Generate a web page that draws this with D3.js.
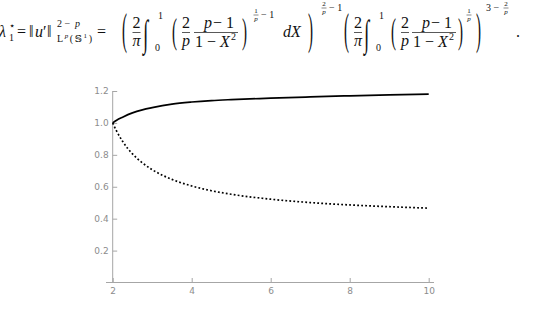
<!DOCTYPE html>
<html>
  <head>
    <script src="https://d3js.org/d3.v7.min.js"></script>
    <style>
      body { margin: 0; background: #fff; }
      .fm text { font-family: 'Liberation Serif', 'DejaVu Serif', serif; }
      .tick text { font-family: 'DejaVu Sans', sans-serif; }
    </style>
  </head>
  <body>
<script type="text/javascript">
// values
var pValues   = [2, 2.1, 2.25, 2.5, 2.75, 3, 3.5, 4, 4.5, 5, 6, 7, 8, 9, 10];
var upperCurve = [1.0, 1.017, 1.036, 1.063, 1.082, 1.096, 1.118, 1.131, 1.140, 1.146, 1.155, 1.163, 1.170, 1.176, 1.180];
var lowerCurve = [1.0, 0.948, 0.885, 0.806, 0.750, 0.707, 0.646, 0.605, 0.575, 0.553, 0.522, 0.501, 0.486, 0.475, 0.466];
var xTicks = [2, 4, 6, 8, 10];
var xMinor = [2.5, 3, 3.5, 4.5, 5, 5.5, 6.5, 7, 7.5, 8.5, 9, 9.5];
var yTicks = [0.2, 0.4, 0.6, 0.8, 1.0, 1.2];
var yMinor = [0.05, 0.1, 0.15, 0.25, 0.3, 0.35, 0.45, 0.5, 0.55, 0.65, 0.7, 0.75, 0.85, 0.9, 0.95, 1.05, 1.1, 1.15];

var width = 539, height = 309;
var svg = d3.select('body').append('svg')
      .attr('width', width)
      .attr('height', height);

var x = d3.scaleLinear().domain([2, 10]).range([112.7, 428.7]);
var y = d3.scaleLinear().domain([0, 1.2]).range([282.5, 91]);

var axisColor = '#a6a6a6';
var labelColor = '#8c8c8c';

// ---- formula ----
var f = svg.append('g').attr('class', 'fm').attr('fill', '#111');

function txt(px, py, s, size, opts) {
  opts = opts || {};
  var t = f.append('text')
      .attr('x', px).attr('y', py)
      .attr('font-size', size)
      .attr('text-anchor', opts.anchor || 'start')
      .text(s);
  if (opts.italic) t.attr('font-style', 'italic');
  return t;
}

function frac(cx, num, den, size, nb, bar, db, w, numIt, denIt) {
  txt(cx, nb, num, size, {anchor: 'middle', italic: numIt});
  txt(cx, db, den, size, {anchor: 'middle', italic: denIt});
  f.append('line')
      .attr('x1', cx - w / 2).attr('x2', cx + w / 2)
      .attr('y1', bar).attr('y2', bar)
      .attr('stroke', '#111').attr('stroke-width', size > 10 ? 0.7 : 0.5);
}

function bigParen(px, py, s, ky, size) {
  f.append('text')
      .attr('transform', 'translate(' + px + ',' + py + ') scale(1,' + ky + ')')
      .attr('font-size', size)
      .text(s);
}

function integral(px, py) {
  f.append('text')
      .attr('transform', 'translate(' + px + ',' + py + ') scale(1.1,2.2)')
      .attr('font-size', 17)
      .attr('font-style', 'italic')
      .text('\u222B');
}

var base = 37;

txt(-1, base, '\u03BB', 16, {italic: true});
txt(9, base + 4, '1', 10);
txt(9, base - 8, '\u22C6', 10);
txt(17, base, '=', 16);
txt(29, base, '\u2016', 16);
txt(35, base, 'u', 16, {italic: true});
txt(43, base, '\u2032', 16);
txt(47, base, '\u2016', 16);
txt(57, base - 10, '2 \u2212 ', 10);
txt(75, base - 10, 'p', 10, {italic: true});
var sub = txt(57, base + 5, 'L', 10).attr('letter-spacing', 1.6);
sub.append('tspan').attr('font-size', 7).attr('font-style', 'italic').attr('dy', -4).text('p');
sub.append('tspan').attr('dy', 4).text('(\uD835\uDD4A');
sub.append('tspan').attr('font-size', 7).attr('dy', -4).text('1');
sub.append('tspan').attr('dy', 4).text(')');
txt(97, base, '=', 16);

// first big bracket
bigParen(122, 44, '(', 3.0, 15);
frac(136.5, '2', '\u03C0', 16, 28, 32.5, 46, 8, false, true);
integral(143, 46);
txt(158, 19, '1', 10);
txt(155, 51, '0', 10);
bigParen(172, 43, '(', 2.4, 15);
frac(186, '2', 'p', 16, 28, 32.5, 46, 8, false, true);
frac(216, '', '', 16, 28, 32.5, 46, 44);
txt(204, 28, 'p', 16, {italic: true});
txt(213, 28, '\u2212 1', 16);
txt(195, 47, '1 \u2212', 16);
txt(220, 47, 'X', 16, {italic: true});
txt(231, 40, '2', 10);
bigParen(242, 43, ')', 2.4, 15);
frac(256, '1', 'p', 7, 13, 15, 21, 5, false, true);
txt(261, 18, '\u2212 1', 10);
txt(283, base, 'd', 16, {italic: true});
txt(291, base, 'X', 16, {italic: true});
bigParen(308, 44, ')', 3.0, 15);
frac(324, '2', 'p', 7, 6, 8, 14, 5, false, true);
txt(329, 11, '\u2212 1', 10);

// second big bracket
bigParen(344, 44, '(', 3.0, 15);
frac(358, '2', '\u03C0', 16, 28, 32.5, 46, 8, false, true);
integral(364, 46);
txt(379, 19, '1', 10);
txt(376, 51, '0', 10);
bigParen(391, 43, '(', 2.4, 15);
frac(405, '2', 'p', 16, 28, 32.5, 46, 8, false, true);
frac(434, '', '', 16, 28, 32.5, 46, 44);
txt(422, 28, 'p', 16, {italic: true});
txt(431, 28, '\u2212 1', 16);
txt(413, 47, '1 \u2212', 16);
txt(438, 47, 'X', 16, {italic: true});
txt(449, 40, '2', 10);
bigParen(458, 43, ')', 2.4, 15);
frac(469, '1', 'p', 7, 13, 15, 21, 5, false, true);
bigParen(476, 44, ')', 3.0, 15);
txt(486, 11, '3 \u2212', 10);
frac(506, '2', 'p', 7, 6, 8, 14, 5, false, true);
txt(516, base, '.', 16);

// ---- axes ----
var gx = svg.append('g').attr('transform', 'translate(0,' + y(0) + ')');
gx.call(d3.axisBottom(x).tickValues(xMinor).tickSizeInner(-2.5).tickSizeOuter(0).tickFormat(''));
gx.call(d3.axisBottom(x).tickValues(xTicks).tickSizeInner(-4.5).tickSizeOuter(0).tickPadding(5).tickFormat(d3.format('d')));
gx.selectAll('.domain').remove();
gx.append('line').attr('x1', 106).attr('x2', 434).attr('stroke', axisColor);

var gy = svg.append('g').attr('transform', 'translate(' + x(2) + ',0)');
gy.call(d3.axisLeft(y).tickValues(yMinor).tickSizeInner(-2.5).tickSizeOuter(0).tickFormat(''));
gy.call(d3.axisLeft(y).tickValues(yTicks).tickSizeInner(-4.5).tickSizeOuter(0).tickPadding(4).tickFormat(d3.format('.1f')));
gy.selectAll('.domain').remove();
gy.append('line').attr('y1', y(0)).attr('y2', y(1.2)).attr('stroke', axisColor);

svg.selectAll('.tick line').attr('stroke', axisColor);
svg.selectAll('.tick text')
    .attr('fill', labelColor)
    .attr('font-family', null)
    .attr('font-size', 9);

// ---- curves ----
var line = d3.line()
      .x(function(d) { return x(d[0]); })
      .y(function(d) { return y(d[1]); })
      .curve(d3.curveMonotoneX);

svg.append('path')
    .datum(d3.zip(pValues, upperCurve))
    .attr('d', line)
    .attr('fill', 'none')
    .attr('stroke', '#000')
    .attr('stroke-width', 1.7);

svg.append('path')
    .datum(d3.zip(pValues, lowerCurve))
    .attr('d', line)
    .attr('fill', 'none')
    .attr('stroke', '#000')
    .attr('stroke-width', 1.7)
    .attr('stroke-dasharray', '1.8,2.2');
</script>
  </body>
</html>
